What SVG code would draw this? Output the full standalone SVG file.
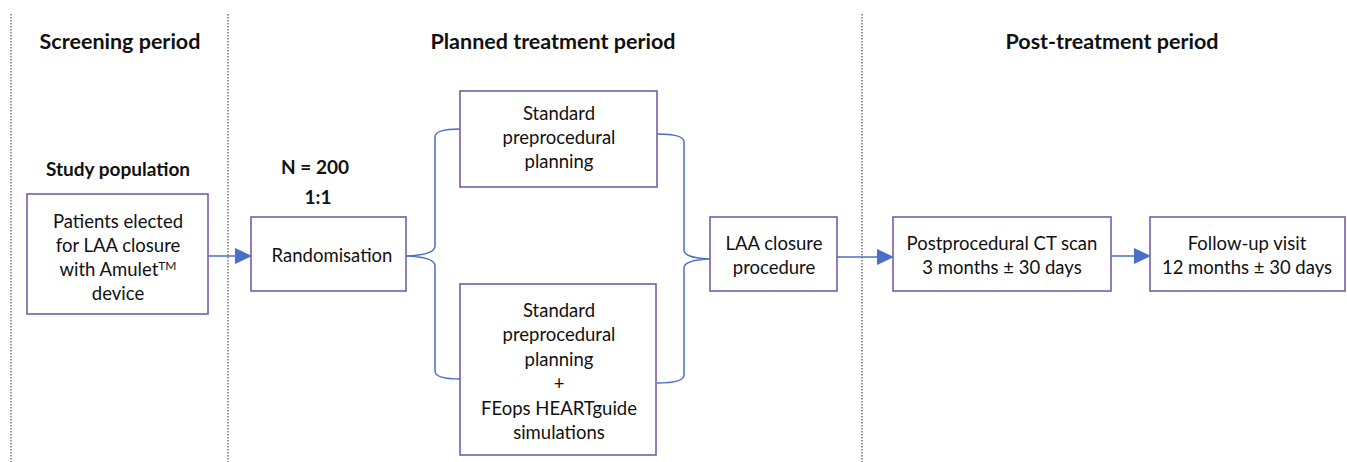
<svg xmlns="http://www.w3.org/2000/svg" width="1347" height="462" viewBox="0 0 1347 462">
<style>
.box{fill:#fff;stroke:#7a5ba8;stroke-width:1.6}
.t{font-family:Lato,"Liberation Sans",sans-serif;font-size:18.5px;fill:#111;text-anchor:middle}
.h{font-family:Lato,"Liberation Sans",sans-serif;font-size:21.5px;font-weight:bold;fill:#111;text-anchor:middle}
.s{font-family:Lato,"Liberation Sans",sans-serif;font-size:19px;font-weight:bold;fill:#111;text-anchor:middle}
.div{stroke:#555;stroke-width:1.2;stroke-dasharray:1.5 1.5}
.c{fill:none;stroke:#4a6fc8;stroke-width:1.5}
</style>
<defs>
<marker id="ar" markerWidth="17" markerHeight="16" refX="16" refY="8" orient="auto" markerUnits="userSpaceOnUse">
<path d="M0,0 L17,8 L0,16 Z" fill="#4a6fc8"/>
</marker>
</defs>
<rect width="1347" height="462" fill="#fff"/>
<g id="dividers">
<line class="div" x1="11" y1="14" x2="11" y2="462"/>
<line class="div" x1="228" y1="14" x2="228" y2="462"/>
<line class="div" x1="862" y1="14" x2="862" y2="462"/>
</g>
<g id="headings">
<text class="h" x="120" y="49">Screening period</text>
<text class="h" x="553" y="49">Planned treatment period</text>
<text class="h" x="1112" y="49">Post-treatment period</text>
<text class="s" x="118" y="176">Study population</text>
<text class="s" x="315" y="174">N = 200</text>
<text class="s" x="318" y="204">1:1</text>
</g>
<g id="connectors">
<line class="c" x1="208" y1="256" x2="251" y2="256" marker-end="url(#ar)"/>
<line class="c" x1="837" y1="257" x2="893" y2="257" marker-end="url(#ar)"/>
<line class="c" x1="1111" y1="256" x2="1150" y2="256" marker-end="url(#ar)"/>
<path class="c" d="M460,129 Q435,129 435,137 L435,246 Q435,255 406,256 Q435,257 435,266 L435,371 Q435,379 460,379"/>
<path class="c" d="M657,134 Q684,134 684,142 L684,250 Q684,258 710,259 Q684,260 684,268 L684,375 Q684,383 657,383"/>
</g>
<g id="n-patients">
<rect class="box" x="27" y="194" width="181" height="120"/>
<text class="t" x="118" y="228">Patients elected</text>
<text class="t" x="118" y="252">for LAA closure</text>
<text class="t" x="118" y="276">with Amulet<tspan font-size="12" dy="-6">TM</tspan></text>
<text class="t" x="118" y="300">device</text>
</g>
<g id="n-random">
<rect class="box" x="251" y="217" width="155" height="74"/>
<text class="t" x="332" y="262">Randomisation</text>
</g>
<g id="n-standard">
<rect class="box" x="460" y="91" width="197" height="96"/>
<text class="t" x="559" y="120">Standard</text>
<text class="t" x="559" y="144">preprocedural</text>
<text class="t" x="559" y="168">planning</text>
</g>
<g id="n-feops">
<rect class="box" x="460" y="284" width="196" height="171"/>
<text class="t" x="559" y="317">Standard</text>
<text class="t" x="559" y="341">preprocedural</text>
<text class="t" x="559" y="366">planning</text>
<text class="t" x="559" y="390">+</text>
<text class="t" x="559" y="415">FEops HEARTguide</text>
<text class="t" x="559" y="439">simulations</text>
</g>
<g id="n-laa">
<rect class="box" x="710" y="217" width="127" height="74"/>
<text class="t" x="774" y="250">LAA closure</text>
<text class="t" x="774" y="274">procedure</text>
</g>
<g id="n-ct">
<rect class="box" x="893" y="217" width="218" height="74"/>
<text class="t" x="1002" y="250">Postprocedural CT scan</text>
<text class="t" x="1002" y="274">3 months ± 30 days</text>
</g>
<g id="n-follow">
<rect class="box" x="1150" y="217" width="195" height="74"/>
<text class="t" x="1247" y="250">Follow-up visit</text>
<text class="t" x="1247" y="274">12 months ± 30 days</text>
</g>
</svg>
